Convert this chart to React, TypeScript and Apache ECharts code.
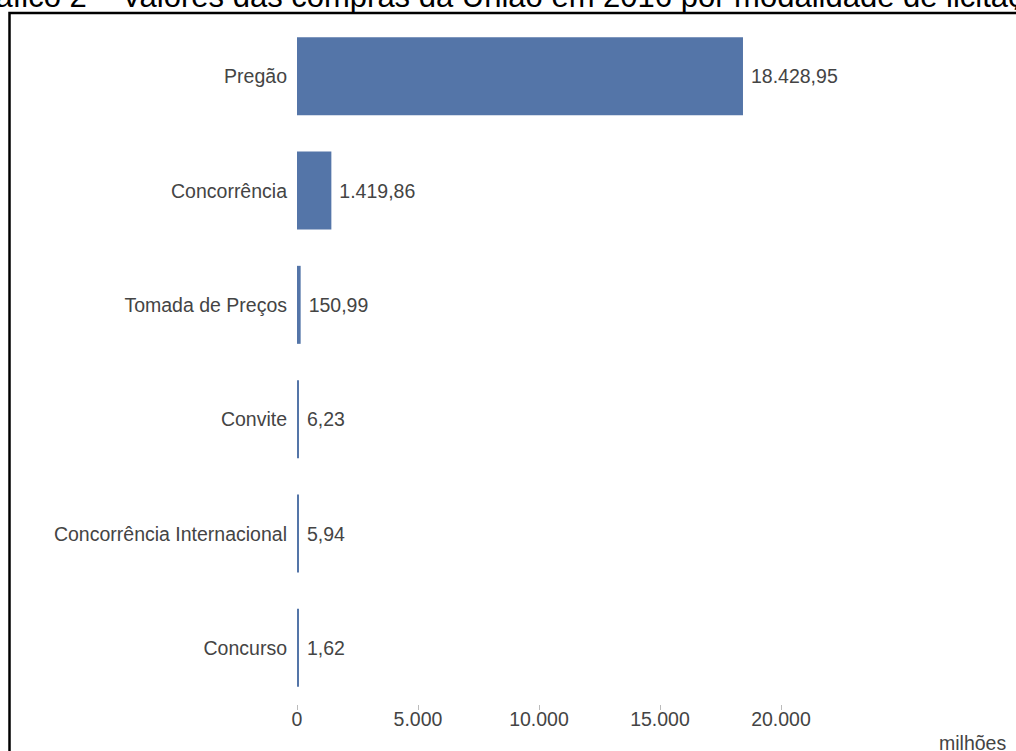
import React, { useEffect, useRef } from "react";
import * as echarts from "echarts";

const categories = [
  "Pregão",
  "Concorrência",
  "Tomada de Preços",
  "Convite",
  "Concorrência Internacional",
  "Concurso",
];
const values = [18428.95, 1419.86, 150.99, 6.23, 5.94, 1.62];
const xTicks = [0, 5000, 10000, 15000, 20000];
const titleText =
  "Gráfico 2 – Valores das compras da União em 2016 por modalidade de licitação";
const unitText = "milhões";

function fmtBR(v: number, decimals: number): string {
  const fixed = v.toFixed(decimals);
  const [intPart, dec] = fixed.split(".");
  const withDots = intPart.replace(/\B(?=(\d{3})+(?!\d))/g, ".");
  return dec ? `${withDots},${dec}` : withDots;
}

const FONT = "'Liberation Sans', Arial, sans-serif";
const TEXT_COLOR = "#444";

export default function App() {
  const ref = useRef<HTMLDivElement>(null);
  useEffect(() => {
    if (!ref.current) return;
    const chart = echarts.init(ref.current, undefined, { renderer: "svg" });
    chart.setOption({
      animation: false,
      backgroundColor: "#fff",
      grid: { left: 297, right: 235, top: 19, bottom: 46, containLabel: false },
      xAxis: {
        type: "value",
        min: xTicks[0],
        max: xTicks[xTicks.length - 1],
        interval: 5000,
        axisLine: { show: false },
        axisTick: { show: true, length: 5, lineStyle: { color: "#bbb" } },
        splitLine: { show: false },
        axisLabel: {
          margin: 4,
          color: TEXT_COLOR,
          fontFamily: FONT,
          fontSize: 19.5,
          formatter: (v: number) => fmtBR(v, 0),
        },
      },
      yAxis: {
        type: "category",
        data: categories,
        inverse: true,
        axisLine: { show: false },
        axisTick: { show: false },
        axisLabel: {
          margin: 10,
          color: TEXT_COLOR,
          fontFamily: FONT,
          fontSize: 19.5,
        },
      },
      series: [
        {
          type: "bar",
          data: values,
          barWidth: 78,
          barMinHeight: 2,
          itemStyle: { color: "#5475a8" },
          label: {
            show: true,
            position: "right",
            distance: 8,
            color: TEXT_COLOR,
            fontFamily: FONT,
            fontSize: 19.5,
            formatter: (p: any) => fmtBR(p.value, 2),
          },
        },
      ],
      graphic: [
        {
          type: "rect",
          z: 100,
          shape: { x: 9.5, y: 13, width: 1100, height: 1000 },
          style: { fill: "none", stroke: "#000", lineWidth: 2.5 },
        },
        {
          type: "text",
          z: 100,
          x: -39,
          y: -4,
          style: {
            text: titleText,
            fill: "#000",
            font: `31px ${FONT}`,
            textAlign: "left",
            textVerticalAlign: "middle",
          },
        },
        {
          type: "text",
          z: 100,
          x: 939,
          y: 743,
          style: {
            text: unitText,
            fill: TEXT_COLOR,
            font: `19.5px ${FONT}`,
            textAlign: "left",
            textVerticalAlign: "middle",
          },
        },
      ],
    });
    return () => chart.dispose();
  }, []);
  return (
    <div
      ref={ref}
      style={{ position: "fixed", left: 0, top: 0, width: 1016, height: 751 }}
    />
  );
}
